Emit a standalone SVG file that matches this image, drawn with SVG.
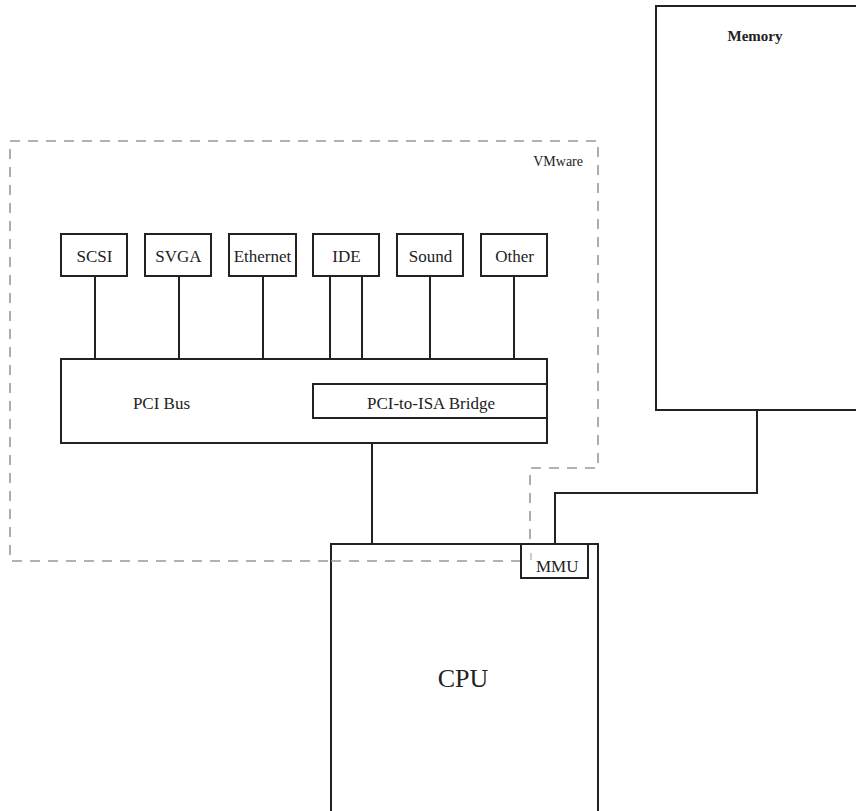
<svg xmlns="http://www.w3.org/2000/svg" width="856" height="811" viewBox="0 0 856 811">
<style>
.box{fill:#fff;stroke:#222;stroke-width:2}
.ln{fill:none;stroke:#222;stroke-width:2}
.dash{fill:none;stroke:#999;stroke-width:1.6;stroke-dasharray:10,8}
text{font-family:"Liberation Serif","Times New Roman",serif;fill:#222}
.lbl{font-size:17px;text-anchor:middle}
</style>
<rect width="856" height="811" fill="#fff"/>
<g id="vmware">
<path class="dash" d="M10,141 H598 V468 H530 V561 H10 Z"/>
<text x="583" y="166" font-size="14" text-anchor="end">VMware</text>
</g>
<g id="connectors">
<path class="ln" d="M95,276 V359 M179,276 V359 M263,276 V359 M330,276 V359 M362,276 V384 M430,276 V384 M514,276 V384"/>
<path class="ln" d="M372,443 V544"/>
<path class="ln" d="M757,410 V493 H555 V544"/>
</g>
<g id="memory">
<rect class="box" x="656" y="6" width="210" height="404"/>
<text x="755" y="41" font-size="15" font-weight="bold" text-anchor="middle">Memory</text>
</g>
<g id="pcibus">
<rect class="box" x="61" y="359" width="486" height="84"/>
<text x="161.5" y="409" class="lbl">PCI Bus</text>
</g>
<g id="bridge">
<rect class="box" x="313" y="384" width="234" height="34"/>
<text x="431" y="409" class="lbl">PCI-to-ISA Bridge</text>
</g>
<g id="scsi"><rect class="box" x="61" y="234" width="66" height="42"/><text x="94.5" y="262" class="lbl">SCSI</text></g>
<g id="svga"><rect class="box" x="145" y="234" width="66" height="42"/><text x="178.5" y="262" class="lbl">SVGA</text></g>
<g id="ethernet"><rect class="box" x="229" y="234" width="67" height="42"/><text x="262.5" y="262" class="lbl">Ethernet</text></g>
<g id="ide"><rect class="box" x="313" y="234" width="66" height="42"/><text x="346.5" y="262" class="lbl">IDE</text></g>
<g id="sound"><rect class="box" x="397" y="234" width="66" height="42"/><text x="430.5" y="262" class="lbl">Sound</text></g>
<g id="other"><rect class="box" x="481" y="234" width="66" height="42"/><text x="514.5" y="262" class="lbl">Other</text></g>
<g id="cpu">
<rect class="box" x="331" y="544" width="267" height="280"/>
<text x="463" y="687" font-size="26" text-anchor="middle">CPU</text>
</g>
<path class="dash" d="M331,561 H521"/>
<g id="mmu">
<rect class="box" x="521" y="544" width="67" height="34"/>
<line x1="531" y1="553" x2="531" y2="560" stroke="#999" stroke-width="1"/>
<text x="536" y="572" font-size="17">MMU</text>
</g>
</svg>
